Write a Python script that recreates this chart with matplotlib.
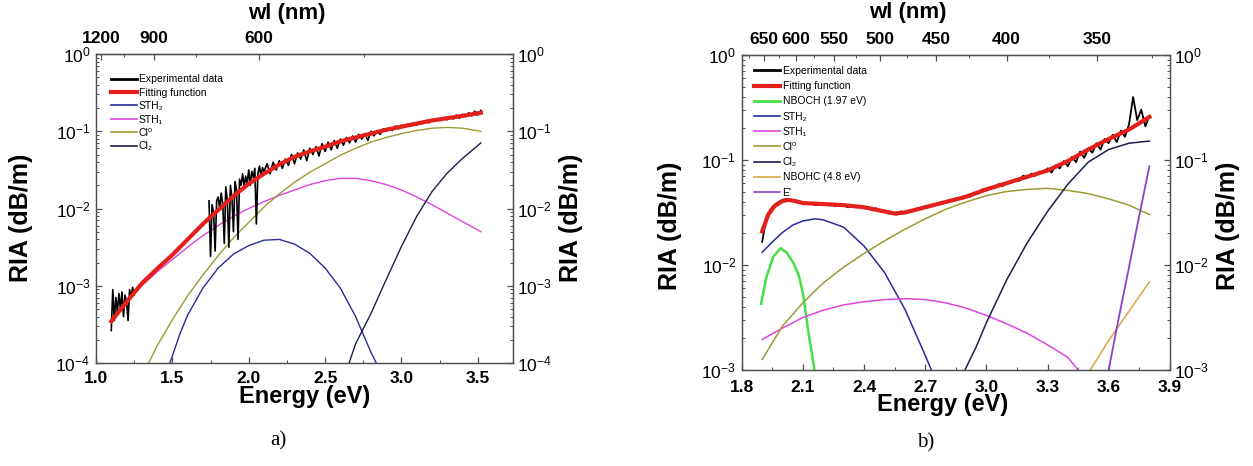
import numpy as np
import matplotlib
matplotlib.use("Agg")
import matplotlib.pyplot as plt
from matplotlib.ticker import MultipleLocator, LogLocator, NullFormatter

plt.rcParams['font.family'] = ['Liberation Sans', 'DejaVu Sans']
plt.rcParams['mathtext.fontset'] = 'custom'
plt.rcParams['mathtext.rm'] = 'Liberation Sans:bold'
plt.rcParams['mathtext.bf'] = 'Liberation Sans:bold'
plt.rcParams['mathtext.it'] = 'Liberation Sans:bold'

HC = 1239.84  # eV * nm

# ---------------- panel a) values are log10(RIA in dB/m) ----------------
a_exp1_e = [1.10, 1.11, 1.12, 1.13, 1.14, 1.15, 1.16, 1.17, 1.18, 1.19,
            1.20, 1.21, 1.22, 1.23, 1.24, 1.25]
a_exp1_lg = [-3.58, -3.05, -3.45, -3.15, -3.35, -3.10, -3.30, -3.08, -3.40, -3.12,
             -3.20, -3.45, -3.05, -3.15, -3.02, -3.12]

a_exp2_e = np.round(np.r_[np.arange(1.74, 2.105, 0.01), np.arange(2.12, 3.525, 0.02)], 2)
a_exp2_lg = [-1.90, -2.62, -1.95, -2.05, -2.55, -1.90, -1.85, -2.00, -1.80, -1.95,
             -2.45, -1.72, -1.90, -2.50, -1.70, -1.85, -2.30, -1.65, -1.75, -2.40,
             -1.62, -1.70, -1.55, -1.72, -1.58, -1.68, -1.50, -1.70, -1.52, -1.60,
             -1.48, -2.20, -1.55, -1.45, -1.58, -1.47, -1.52,
             -1.42, -1.55, -1.40, -1.50, -1.38, -1.48, -1.36, -1.44, -1.30, -1.42,
             -1.28, -1.36, -1.24, -1.38, -1.22, -1.30, -1.20, -1.32, -1.16, -1.26,
             -1.14, -1.24, -1.12, -1.22, -1.10, -1.18, -1.08, -1.15, -1.06, -1.14,
             -1.04, -1.10, -1.03, -1.12, -1.00, -1.06, -0.99, -1.04, -0.97, -1.00,
             -0.96, -0.99, -0.93, -0.97, -0.92, -0.95, -0.91, -0.93, -0.89, -0.92,
             -0.88, -0.90, -0.86, -0.89, -0.85, -0.87, -0.84, -0.86, -0.83, -0.85,
             -0.81, -0.84, -0.79, -0.83, -0.78, -0.81, -0.76, -0.80, -0.74, -0.79,
             -0.73]

a_fit_e = [1.10, 1.2, 1.3, 1.4, 1.5, 1.6, 1.7, 1.8, 1.9, 2.0, 2.1, 2.2, 2.3,
           2.4, 2.5, 2.6, 2.7, 2.8, 2.9, 3.0, 3.1, 3.2, 3.3, 3.4, 3.52]
a_fit_lg = [-3.46, -3.21, -2.97, -2.78, -2.60, -2.40, -2.20, -2.02, -1.84, -1.68,
            -1.55, -1.43, -1.33, -1.26, -1.20, -1.13, -1.08, -1.03, -0.98, -0.94,
            -0.90, -0.86, -0.83, -0.80, -0.76]
a_sth1_lg = [-3.46, -3.22, -3.00, -2.82, -2.66, -2.50, -2.35, -2.22, -2.10, -2.00,
             -1.91, -1.83, -1.76, -1.69, -1.64, -1.61, -1.61, -1.64, -1.69, -1.76,
             -1.85, -1.95, -2.06, -2.17, -2.30]

a_cl0_e = [1.345, 1.4, 1.5, 1.6, 1.7, 1.8, 1.9, 2.0, 2.1, 2.2, 2.3, 2.4,
           2.5, 2.6, 2.7, 2.8, 2.9, 3.0, 3.1, 3.2, 3.3, 3.4, 3.52]
a_cl0_lg = [-4.0, -3.78, -3.44, -3.13, -2.86, -2.61, -2.38, -2.18, -1.98, -1.81,
            -1.66, -1.53, -1.42, -1.31, -1.22, -1.14, -1.08, -1.03, -0.99, -0.96,
            -0.95, -0.96, -1.00]

a_sth2_e = [1.484, 1.55, 1.6, 1.7, 1.8, 1.9, 2.0, 2.1, 2.2, 2.3, 2.4, 2.5,
            2.6, 2.7, 2.8, 2.835]
a_sth2_lg = [-4.0, -3.62, -3.38, -3.03, -2.77, -2.59, -2.48, -2.41, -2.40, -2.46,
             -2.58, -2.77, -3.03, -3.40, -3.86, -4.0]

a_cl2_e = [2.657, 2.7, 2.8, 2.9, 3.0, 3.1, 3.2, 3.3, 3.4, 3.52]
a_cl2_lg = [-4.0, -3.75, -3.36, -2.92, -2.49, -2.10, -1.78, -1.54, -1.35, -1.15]

a_wl_major = [1200, 900, 600]
a_wl_minor = [1050, 750, 450]

# ---------------- panel b) ----------------
b_exp_e = np.round(np.arange(1.90, 3.805, 0.02), 2)
b_exp_lg = [-1.78, -1.56, -1.47, -1.43, -1.40, -1.38, -1.37, -1.38, -1.39, -1.41,
            -1.40, -1.42, -1.41, -1.43, -1.42, -1.41, -1.43, -1.42, -1.44, -1.42,
            -1.43, -1.45, -1.43, -1.45, -1.44, -1.46, -1.45, -1.48, -1.46, -1.49,
            -1.48, -1.51, -1.50, -1.52, -1.49, -1.50, -1.48, -1.49, -1.46, -1.47,
            -1.44, -1.45, -1.42, -1.43, -1.40, -1.41, -1.38, -1.39, -1.36, -1.37,
            -1.34, -1.35, -1.31, -1.32, -1.28, -1.29, -1.26, -1.27, -1.23, -1.25,
            -1.21, -1.22, -1.19, -1.20, -1.15, -1.17, -1.13, -1.15, -1.11, -1.12,
            -1.08, -1.12, -1.05, -1.08, -1.01, -1.06, -0.97, -1.02, -0.92, -0.98,
            -0.89, -0.93, -0.84, -0.90, -0.80, -0.84, -0.76, -0.83, -0.72, -0.78,
            -0.66, -0.40, -0.62, -0.52, -0.68, -0.58]

b_fit_e = [1.90, 1.93, 1.96, 2.00, 2.03, 2.06, 2.10, 2.2, 2.3, 2.4, 2.5, 2.55, 2.6,
           2.7, 2.8, 2.9, 3.0, 3.1, 3.2, 3.3, 3.4, 3.5, 3.6, 3.7, 3.8]
b_fit_lg = [-1.68, -1.52, -1.44, -1.39, -1.38, -1.39, -1.41, -1.42, -1.43, -1.45,
            -1.49, -1.51, -1.50, -1.45, -1.40, -1.35, -1.28, -1.22, -1.16, -1.10,
            -1.01, -0.90, -0.80, -0.71, -0.59]

b_nboch_e = [1.895, 1.92, 1.955, 1.99, 2.02, 2.053, 2.08, 2.10, 2.13, 2.157]
b_nboch_lg = [-2.37, -2.12, -1.92, -1.84, -1.88, -1.98, -2.10, -2.27, -2.68, -3.0]

b_sth2_e = [1.9, 1.95, 2.0, 2.05, 2.1, 2.16, 2.2, 2.3, 2.4, 2.5, 2.6, 2.7, 2.73]
b_sth2_lg = [-1.88, -1.78, -1.69, -1.62, -1.58, -1.56, -1.57, -1.64, -1.82, -2.07,
             -2.42, -2.86, -3.0]

b_sth1_e = [1.9, 2.0, 2.1, 2.2, 2.3, 2.4, 2.5, 2.6, 2.7, 2.8, 2.9, 3.0, 3.1,
            3.2, 3.3, 3.4, 3.45]
b_sth1_lg = [-2.71, -2.60, -2.50, -2.43, -2.38, -2.35, -2.33, -2.32, -2.33, -2.36,
             -2.41, -2.48, -2.56, -2.65, -2.76, -2.88, -3.0]

b_cl0_e = [1.9, 2.0, 2.1, 2.2, 2.3, 2.4, 2.5, 2.6, 2.7, 2.8, 2.9, 3.0, 3.1,
           3.2, 3.3, 3.4, 3.5, 3.6, 3.7, 3.8]
b_cl0_lg = [-2.90, -2.58, -2.36, -2.17, -2.02, -1.89, -1.77, -1.66, -1.56, -1.47,
            -1.40, -1.34, -1.30, -1.28, -1.27, -1.29, -1.32, -1.37, -1.43, -1.52]

b_cl2_e = [2.895, 2.95, 3.0, 3.1, 3.2, 3.3, 3.4, 3.5, 3.6, 3.7, 3.8]
b_cl2_lg = [-3.0, -2.78, -2.55, -2.14, -1.79, -1.49, -1.23, -1.02, -0.90, -0.84, -0.82]

b_nbohc_e = [3.51, 3.6, 3.7, 3.8]
b_nbohc_lg = [-3.0, -2.72, -2.44, -2.16]

b_eprime_e = [3.60, 3.65, 3.70, 3.75, 3.80]
b_eprime_lg = [-3.0, -2.50, -2.02, -1.53, -1.06]

b_wl_major = [650, 600, 550, 500, 450, 400, 350]
b_wl_minor = [675, 625, 575, 525, 475, 425, 375, 325]

assert len(a_exp2_e) == len(a_exp2_lg)
assert len(b_exp_e) == len(b_exp_lg)

C_FIT = '#e3201b'
C_STH2 = '#2a2a9c'
C_STH1 = '#dc45dc'
C_CL0 = '#9c9a32'
C_CL2 = '#1e1e4e'
C_NBOCH = '#45e045'
C_NBOHC = '#d9a446'
C_EPR = '#8c40cc'
FRAME = '#505050'


def ev_to_nm(x):
    x = np.asarray(x, dtype=float)
    with np.errstate(divide='ignore', invalid='ignore'):
        return HC / x


def lin(lg):
    return 10.0 ** np.asarray(lg)


def style_axes(ax, xmaj, xmin, ylim, wl_major, wl_minor, xpad):
    ax.set_yscale('log')
    ax.set_ylim(*ylim)
    ax.xaxis.set_major_locator(MultipleLocator(xmaj))
    ax.xaxis.set_minor_locator(MultipleLocator(xmin))
    ax.yaxis.set_minor_locator(LogLocator(base=10, subs=np.arange(2, 10)))
    ax.yaxis.set_minor_formatter(NullFormatter())
    ax.tick_params(which='both', direction='in', color=FRAME, top=False, right=False)
    ax.tick_params(which='major', length=4, width=0.9, labelsize=12.5, pad=4)
    ax.tick_params(axis='x', which='major', pad=xpad)
    ax.tick_params(which='minor', length=2.2, width=0.7)
    for t in ax.get_xticklabels():
        t.set_fontweight('bold')
    for s in ax.spines.values():
        s.set_color(FRAME)
        s.set_linewidth(1.0)

    # twin right axis with the same log scale
    ax2 = ax.twinx()
    ax2.set_yscale('log')
    ax2.set_ylim(*ylim)
    ax2.yaxis.set_minor_locator(LogLocator(base=10, subs=np.arange(2, 10)))
    ax2.yaxis.set_minor_formatter(NullFormatter())
    ax2.tick_params(which='both', direction='in', color=FRAME)
    ax2.tick_params(which='major', length=4, width=0.9, labelsize=12.5, pad=3)
    ax2.tick_params(which='minor', length=2.2, width=0.7)
    for s in ax2.spines.values():
        s.set_color(FRAME)

    # top wavelength axis
    sec = ax.secondary_xaxis('top', functions=(ev_to_nm, ev_to_nm))
    sec.set_xticks(wl_major)
    sec.set_xticks(wl_minor, minor=True)
    sec.set_xticklabels([str(w) for w in wl_major], fontweight='bold')
    sec.tick_params(which='both', direction='in', color=FRAME, labelsize=12.5, pad=6)
    sec.tick_params(which='major', length=4, width=0.9)
    sec.tick_params(which='minor', length=2.2, width=0.7)
    sec.spines['top'].set_color(FRAME)

    ax.set_xlabel('Energy (eV)', fontsize=17, fontweight='bold')
    ax.set_ylabel('RIA (dB/m)', fontsize=18, fontweight='bold')
    ax2.set_ylabel('RIA (dB/m)', fontsize=18, fontweight='bold', rotation=90)
    return ax2


fig = plt.figure(figsize=(12.53, 4.66), dpi=100)
axa = fig.add_axes([0.0766, 0.221, 0.3328, 0.663])
axb = fig.add_axes([0.592, 0.206, 0.3416, 0.676])

# ---- panel a
axa.plot(a_sth2_e, lin(a_sth2_lg), color=C_STH2, lw=1.0, zorder=2)
axa.plot(a_fit_e, lin(a_sth1_lg), color=C_STH1, lw=1.0, zorder=2)
axa.plot(a_cl0_e, lin(a_cl0_lg), color=C_CL0, lw=1.0, zorder=2)
axa.plot(a_cl2_e, lin(a_cl2_lg), color=C_CL2, lw=1.0, zorder=2)
axa.plot(a_exp1_e, lin(a_exp1_lg), color='black', lw=1.2, zorder=3)
axa.plot(a_exp2_e, lin(a_exp2_lg), color='black', lw=1.2, zorder=3)
axa.plot(a_fit_e, lin(a_fit_lg), color=C_FIT, lw=3.0, zorder=4)
axa.set_xlim(1.0, 3.73)
a_handles = [
    plt.Line2D([], [], color='black', lw=2.0),
    plt.Line2D([], [], color=C_FIT, lw=3.0),
    plt.Line2D([], [], color=C_STH2, lw=1.2),
    plt.Line2D([], [], color=C_STH1, lw=1.2),
    plt.Line2D([], [], color=C_CL0, lw=1.2),
    plt.Line2D([], [], color=C_CL2, lw=1.2),
]
a_labels = ['Experimental data', 'Fitting function', 'STH\u2082', 'STH\u2081',
            'Cl\u2070', 'Cl\u2082']
axa.legend(a_handles, a_labels, loc='upper left', bbox_to_anchor=(0.02, 0.955),
           frameon=False, fontsize=7.5, handlelength=2.5, handletextpad=0.2,
           labelspacing=0.33, borderaxespad=0.2)
axa2 = style_axes(axa, 0.5, 0.25, (1e-4, 1.0), a_wl_major, a_wl_minor, 6)
axa.yaxis.set_label_coords(-0.151, 0.47)
axa2.yaxis.set_label_coords(1.11, 0.47)
axa.xaxis.set_label_coords(0.5, -0.072)
axa.text(0.458, 1.13, 'wl (nm)', transform=axa.transAxes, fontsize=16,
         fontweight='bold', ha='center', va='center')

# ---- panel b
axb.plot(b_nboch_e, lin(b_nboch_lg), color=C_NBOCH, lw=1.8, zorder=2)
axb.plot(b_sth2_e, lin(b_sth2_lg), color=C_STH2, lw=1.1, zorder=2)
axb.plot(b_sth1_e, lin(b_sth1_lg), color=C_STH1, lw=1.1, zorder=2)
axb.plot(b_cl0_e, lin(b_cl0_lg), color=C_CL0, lw=1.1, zorder=2)
axb.plot(b_cl2_e, lin(b_cl2_lg), color=C_CL2, lw=1.1, zorder=2)
axb.plot(b_nbohc_e, lin(b_nbohc_lg), color=C_NBOHC, lw=1.1, zorder=2)
axb.plot(b_eprime_e, lin(b_eprime_lg), color=C_EPR, lw=1.3, zorder=2)
axb.plot(b_exp_e, lin(b_exp_lg), color='black', lw=1.3, zorder=3)
axb.plot(b_fit_e, lin(b_fit_lg), color=C_FIT, lw=3.0, zorder=4)
axb.set_xlim(1.8, 3.9)
b_handles = [
    plt.Line2D([], [], color='black', lw=2.0),
    plt.Line2D([], [], color=C_FIT, lw=3.0),
    plt.Line2D([], [], color=C_NBOCH, lw=2.0),
    plt.Line2D([], [], color=C_STH2, lw=1.2),
    plt.Line2D([], [], color=C_STH1, lw=1.2),
    plt.Line2D([], [], color=C_CL0, lw=1.2),
    plt.Line2D([], [], color=C_CL2, lw=1.2),
    plt.Line2D([], [], color=C_NBOHC, lw=1.2),
    plt.Line2D([], [], color=C_EPR, lw=1.2),
]
b_labels = ['Experimental data', 'Fitting function', 'NBOCH (1.97 eV)', 'STH\u2082',
            'STH\u2081', 'Cl\u2070', 'Cl\u2082', 'NBOHC (4.8 eV)', "E'"]
axb.legend(b_handles, b_labels, loc='upper left', bbox_to_anchor=(0.015, 0.985),
           frameon=False, fontsize=7.5, handlelength=2.5, handletextpad=0.2,
           labelspacing=0.5, borderaxespad=0.2)
axb2 = style_axes(axb, 0.3, 0.15, (1e-3, 1.0), b_wl_major, b_wl_minor, 7)
axb.yaxis.set_label_coords(-0.14, 0.457)
axb2.yaxis.set_label_coords(1.107, 0.457)
axb.xaxis.set_label_coords(0.47, -0.072)
axb.text(0.388, 1.135, 'wl (nm)', transform=axb.transAxes, fontsize=16,
         fontweight='bold', ha='center', va='center')

fig.text(0.222, 0.055, 'a)', family=['Liberation Serif', 'DejaVu Serif'], fontsize=15,
         ha='center', va='center')
fig.text(0.739, 0.05, 'b)', family=['Liberation Serif', 'DejaVu Serif'], fontsize=15,
         ha='center', va='center')

fig.savefig('out.png', dpi=100)
